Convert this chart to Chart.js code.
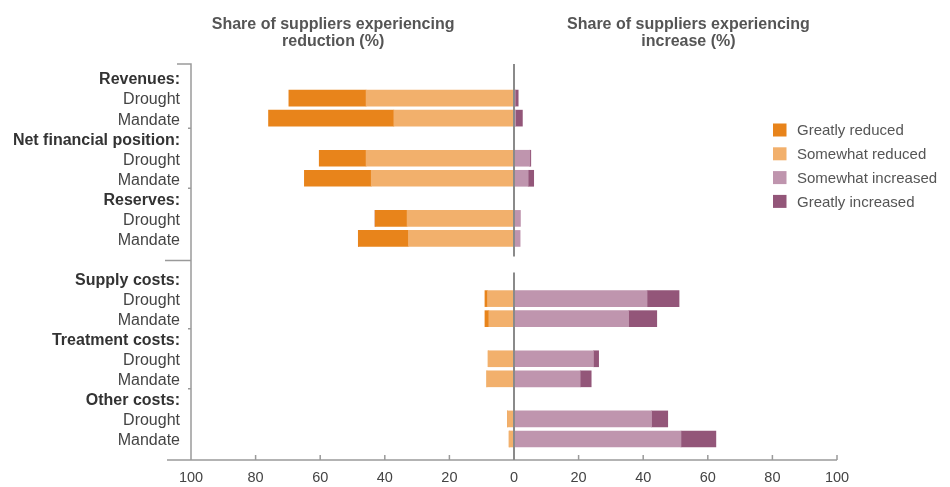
<!DOCTYPE html>
<html>
<head>
<meta charset="utf-8">
<script src="https://cdn.jsdelivr.net/npm/chart.js@4"></script>
<style>
  html, body { margin: 0; padding: 0; background: #fff; }
  #wrap { width: 950px; height: 487px; position: relative; }
</style>
</head>
<body>
<div id="wrap"><canvas id="chart"></canvas></div>
<script>
// Lignes du graphique (en-têtes de groupe, une ligne vide entre revenus et coûts)
var rowLabels = ['Revenues:', 'Drought', 'Mandate',
                 'Net financial position:', 'Drought', 'Mandate',
                 'Reserves:', 'Drought', 'Mandate',
                 '',
                 'Supply costs:', 'Drought', 'Mandate',
                 'Treatment costs:', 'Drought', 'Mandate',
                 'Other costs:', 'Drought', 'Mandate'];
var headerRows = [0, 3, 6, 10, 13, 16];

// Parts des fournisseurs (%) - les réductions sont en valeur positive ici
var greatlyReduced    = [null, 23.9, 38.8, null, 14.5, 20.7, null, 9.9, 15.5, null, null, 0.8, 1.2, null, 0, 0, null, 0, 0];
var somewhatReduced   = [null, 45.8, 37.2, null, 45.8, 44.2, null, 33.1, 32.7, null, null, 8.2, 7.8, null, 8.0, 8.4, null, 2.0, 1.5];
var somewhatIncreased = [null, 0.4, 0.5, null, 4.9, 4.4, null, 2.0, 1.9, null, null, 41.2, 35.5, null, 24.6, 20.5, null, 42.6, 51.7];
var greatlyIncreased  = [null, 0.9, 2.1, null, 0.3, 1.7, null, 0, 0, null, null, 9.9, 8.7, null, 1.6, 3.4, null, 5.0, 10.8];

var xTicks = [-100, -80, -60, -40, -20, 0, 20, 40, 60, 80, 100];

var colors = {
    greatlyReduced: '#e8841b',
    somewhatReduced: '#f2b06c',
    somewhatIncreased: '#bf95ae',
    greatlyIncreased: '#935679'
};
var legendItems = [
    ['Greatly reduced', colors.greatlyReduced],
    ['Somewhat reduced', colors.somewhatReduced],
    ['Somewhat increased', colors.somewhatIncreased],
    ['Greatly increased', colors.greatlyIncreased]
];

var FONT = '"Liberation Sans", Arial, sans-serif';
var AXIS_COLOR = '#9a9a9a';

function negate(arr) {
    return arr.map(v => v === null ? null : -v);
}

// Axes, ligne du zéro, titres et légende dessinés à la main
var decorPlugin = {
    id: 'decor',
    afterDatasetsDraw: function(chart) {
        var ctx = chart.ctx;
        var x = chart.scales.x;
        var y = chart.scales.y;
        var rowH = y.getPixelForValue(1) - y.getPixelForValue(0);
        var left = x.getPixelForValue(-100);
        var zero = x.getPixelForValue(0);
        var right = x.getPixelForValue(100);
        var top = y.getPixelForValue(0) - 0.7 * rowH;
        var split = y.getPixelForValue(9) + 0.1 * rowH;
        var bottom = y.getPixelForValue(18) + 1.05 * rowH;

        ctx.save();
        ctx.strokeStyle = AXIS_COLOR;
        ctx.lineWidth = 1.5;
        ctx.beginPath();
        // axe vertical gauche
        ctx.moveTo(left - 14, top);
        ctx.lineTo(left, top);
        ctx.lineTo(left, bottom);
        // séparation haut / bas
        ctx.moveTo(left - 26, split);
        ctx.lineTo(left, split);
        // petits repères entre groupes
        [2, 5, 12, 15].forEach(function(i) {
            var yy = y.getPixelForValue(i) + 0.5 * rowH;
            ctx.moveTo(left - 3, yy);
            ctx.lineTo(left, yy);
        });
        // axe horizontal du bas
        ctx.moveTo(left - 24, bottom);
        ctx.lineTo(right, bottom);
        xTicks.forEach(function(v) {
            var xx = x.getPixelForValue(v);
            ctx.moveTo(xx, bottom);
            ctx.lineTo(xx, bottom - 5);
        });
        ctx.stroke();

        // ligne du zéro
        ctx.strokeStyle = '#8a8a8a';
        ctx.lineWidth = 2;
        ctx.beginPath();
        ctx.moveTo(zero, top);
        ctx.lineTo(zero, y.getPixelForValue(8) + 0.9 * rowH);
        ctx.moveTo(zero, y.getPixelForValue(10) - 0.3 * rowH);
        ctx.lineTo(zero, bottom);
        ctx.stroke();
        ctx.restore();
    },
    afterDraw: function(chart) {
        var ctx = chart.ctx;
        var x = chart.scales.x;
        ctx.save();
        ctx.fillStyle = '#555';
        ctx.font = 'bold 16px ' + FONT;
        ctx.textAlign = 'center';
        ctx.textBaseline = 'middle';
        var lx = x.getPixelForValue(-56);
        var rx = x.getPixelForValue(54);
        ctx.fillText('Share of suppliers experiencing', lx, 25);
        ctx.fillText('reduction (%)', lx, 42);
        ctx.fillText('Share of suppliers experiencing', rx, 25);
        ctx.fillText('increase (%)', rx, 42);

        // légende
        ctx.font = '15px ' + FONT;
        ctx.textAlign = 'left';
        legendItems.forEach(function(item, i) {
            var cy = 130 + i * 23.8;
            ctx.fillStyle = item[1];
            ctx.fillRect(773, cy - 6.5, 13.5, 13);
            ctx.fillStyle = '#555';
            ctx.fillText(item[0], 797, cy + 1);
        });
        ctx.restore();
    }
};

var ctx = document.getElementById('chart').getContext('2d');
var chartInstance = new Chart(ctx, {
    type: 'bar',
    data: {
        labels: rowLabels,
        datasets: [
            { label: 'Somewhat reduced', data: negate(somewhatReduced), backgroundColor: colors.somewhatReduced, stack: 's' },
            { label: 'Greatly reduced', data: negate(greatlyReduced), backgroundColor: colors.greatlyReduced, stack: 's' },
            { label: 'Somewhat increased', data: somewhatIncreased, backgroundColor: colors.somewhatIncreased, stack: 's' },
            { label: 'Greatly increased', data: greatlyIncreased, backgroundColor: colors.greatlyIncreased, stack: 's' }
        ]
    },
    options: {
        indexAxis: 'y',
        responsive: true,
        maintainAspectRatio: false,
        animation: false,
        barThickness: 16,
        layout: { padding: { top: 68, right: 113, bottom: 0, left: 0 } },
        plugins: {
            legend: { display: false },
            tooltip: { enabled: false }
        },
        scales: {
            x: {
                type: 'linear',
                stacked: true,
                min: -100,
                max: 100,
                afterFit: function(scale) { scale.height = 38; },
                afterBuildTicks: function(scale) {
                    scale.ticks = xTicks.map(v => ({ value: v }));
                },
                grid: { display: false },
                border: { display: false },
                ticks: {
                    padding: 12,
                    color: '#444',
                    font: { family: FONT, size: 14.5 },
                    callback: function(value) { return Math.abs(value); }
                }
            },
            y: {
                stacked: true,
                afterFit: function(scale) { scale.width = 191; },
                grid: { display: false },
                border: { display: false },
                ticks: {
                    padding: 3,
                    labelOffset: 2,
                    autoSkip: false,
                    color: function(c) { return headerRows.includes(c.index) ? '#333' : '#444'; },
                    font: function(c) {
                        return {
                            family: FONT,
                            size: 16,
                            weight: headerRows.includes(c.index) ? 'bold' : 'normal'
                        };
                    }
                }
            }
        }
    },
    plugins: [decorPlugin]
});
</script>
</body>
</html>
